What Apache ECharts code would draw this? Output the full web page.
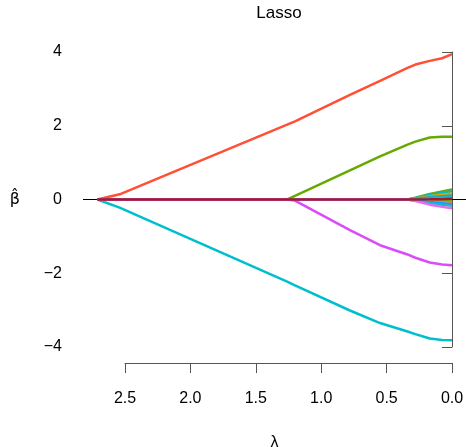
<!DOCTYPE html>
<html>
<head>
<meta charset="utf-8">
<script src="https://cdn.jsdelivr.net/npm/echarts@6/dist/echarts.min.js"></script>
<style>html,body{margin:0;padding:0;background:#fff}#c{width:466px;height:447px}</style>
</head>
<body>
<div id="c"></div>
<script>
// lambda knots (path breakpoints)
var lambda = [2.71, 2.54, 1.26, 1.20, 0.78, 0.55, 0.34, 0.28, 0.17, 0.076, 0];
var yTicks = [-4, -2, 0, 2, 4];
var xTicks = [0, 0.5, 1.0, 1.5, 2.0, 2.5];
// coefficient paths
var coefRed     = [0, 0.14, 2.03, 2.12, 2.84, 3.22, 3.57, 3.66, 3.76, 3.83, 3.94];
var coefCyan    = [0, -0.22, -2.23, -2.33, -3.01, -3.35, -3.58, -3.65, -3.77, -3.81, -3.82];
var coefGreen   = [0, 0, 0, 0.10, 0.79, 1.17, 1.49, 1.57, 1.68, 1.70, 1.70];
var coefMagenta = [0, 0, 0, -0.03, -0.83, -1.24, -1.49, -1.58, -1.71, -1.76, -1.78];
// small coefficients entering near the end
var small1 = [0, 0, 0, 0, 0, 0, 0, 0.05, 0.15, 0.22, 0.27];
var small2 = [0, 0, 0, 0, 0, 0, 0, 0.04, 0.12, 0.18, 0.22];
var small3 = [0, 0, 0, 0, 0, 0, 0, 0.03, 0.09, 0.13, 0.16];
var small4 = [0, 0, 0, 0, 0, 0, 0, 0.02, 0.06, 0.09, 0.11];
var small5 = [0, 0, 0, 0, 0, 0, 0, 0.01, 0.03, 0.05, 0.06];
var small6 = [0, 0, 0, 0, 0, 0, 0, -0.01, -0.03, -0.04, -0.05];
var small7 = [0, 0, 0, 0, 0, 0, 0, -0.02, -0.05, -0.07, -0.09];
var small8 = [0, 0, 0, 0, 0, 0, 0, -0.02, -0.07, -0.10, -0.13];
var small9 = [0, 0, 0, 0, 0, 0, 0, -0.03, -0.10, -0.14, -0.17];
var small10 = [0, 0, 0, 0, 0, 0, 0, -0.04, -0.14, -0.20, -0.24];
var coefDark = [0, 0, 0, 0, 0, 0, 0, 0, 0.005, 0.01, 0.02];

var paths = [
  {v: small1, c: '#66A61E'}, {v: small2, c: '#00BFC4'}, {v: small3, c: '#E69F00'},
  {v: small4, c: '#1FA8B8'}, {v: small5, c: '#00C5C0'}, {v: small6, c: '#7CAE00'},
  {v: small7, c: '#F8766D'}, {v: small8, c: '#00A9FF'}, {v: small9, c: '#22B5C8'},
  {v: small10, c: '#E76BF3'},
  {v: coefRed, c: '#FF5035'}, {v: coefCyan, c: '#00BFCC'},
  {v: coefGreen, c: '#66AA00'}, {v: coefMagenta, c: '#D94CF8'},
  {v: coefDark, c: '#9E1B32'}
];

var FONT = 'Liberation Sans';
var series = paths.map(function (p, i) {
  return {
    type: 'line', xAxisIndex: 0, yAxisIndex: 0,
    data: lambda.map(function (l, k) { return [l, p.v[k]]; }),
    showSymbol: false, symbol: 'none', silent: true,
    lineStyle: {color: p.c, width: 2.5}, itemStyle: {color: p.c},
    z: 2 + i
  };
});
// horizontal reference at zero
series.push({
  type: 'line', xAxisIndex: 0, yAxisIndex: 0, data: [], z: 50,
  markLine: {silent: true, symbol: 'none', label: {show: false},
    lineStyle: {color: '#000', width: 1, type: 'solid'}, data: [{yAxis: 0}]}
});

var chart = echarts.init(document.getElementById('c'), null, {renderer: 'canvas'});
chart.setOption({
  animation: false,
  backgroundColor: '#fff',
  title: {text: 'Lasso', left: 274, top: 0, textAlign: 'center',
    textStyle: {fontFamily: FONT, fontWeight: 'normal', fontSize: 17, color: '#000'}},
  grid: [
    {left: 83, right: 0, top: 52, bottom: 100, containLabel: false, outerBoundsMode: 'none'},
    {left: 125, right: 14, top: 363, height: 0, containLabel: false, outerBoundsMode: 'none'}
  ],
  xAxis: [
    {type: 'value', gridIndex: 0, min: -0.107, max: 2.82, inverse: true,
      axisLine: {show: false}, axisTick: {show: false}, axisLabel: {show: false},
      splitLine: {show: false},
      name: 'λ', nameLocation: 'middle', nameGap: 88,
      nameTextStyle: {fontFamily: FONT, fontSize: 16, color: '#000'}},
    {type: 'value', gridIndex: 1, min: 0, max: 2.5, interval: 0.5, inverse: true,
      position: 'bottom',
      axisLine: {show: true, lineStyle: {color: '#555', width: 1}},
      axisTick: {show: true, length: 10, lineStyle: {color: '#555'}, customValues: xTicks},
      axisLabel: {show: true, margin: 28, fontFamily: FONT, fontSize: 16, color: '#000',
        customValues: xTicks, formatter: function (v) { return v.toFixed(1); }},
      splitLine: {show: false}}
  ],
  yAxis: [
    {type: 'value', gridIndex: 0, min: -4, max: 4, interval: 2,
      axisLine: {show: true, lineStyle: {color: '#555', width: 1}},
      axisTick: {show: true, length: 10, lineStyle: {color: '#555'}},
      axisLabel: {show: true, margin: 21, fontFamily: FONT, fontSize: 16, color: '#000',
        formatter: function (v) { return String(v).replace('-', '\u2212'); }},
      splitLine: {show: false},
      name: 'β\u0302', nameLocation: 'middle', nameGap: 63, nameRotate: 0,
      nameTextStyle: {fontFamily: 'DejaVu Sans', fontSize: 16, color: '#000', padding: [10, 0, 0, 0]}},
    {type: 'value', gridIndex: 1, show: false, min: 0, max: 1}
  ],
  series: series
});
</script>
</body>
</html>
